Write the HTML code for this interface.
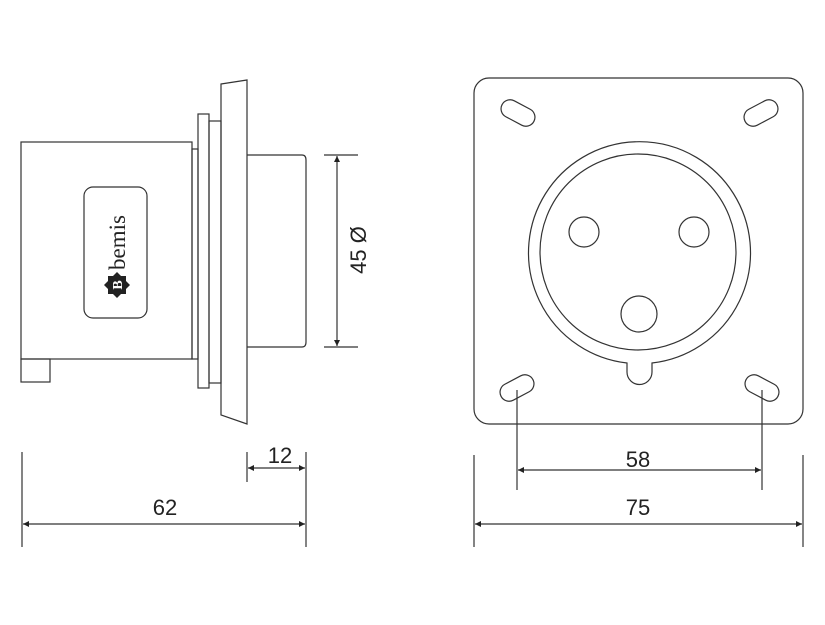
<!DOCTYPE html>
<html><head><meta charset="utf-8"><style>
html,body{margin:0;padding:0;background:#fff;width:825px;height:625px;overflow:hidden}
text{font-family:"Liberation Sans",sans-serif;fill:#222}
</style></head><body>
<svg width="825" height="625" viewBox="0 0 825 625" xmlns="http://www.w3.org/2000/svg">
<defs>
<marker id="a" viewBox="0 0 10 10" refX="10" refY="5" markerWidth="9" markerHeight="6" orient="auto-start-reverse" markerUnits="userSpaceOnUse"><path d="M0,0 L10,5 L0,10z" fill="#222"/></marker>
</defs>
<g fill="none" stroke="#333" stroke-width="1.2">
<rect x="21" y="142" width="171" height="217"/>
<rect x="21" y="359" width="29" height="23"/>
<rect x="192" y="149" width="6" height="210"/>
<rect x="198" y="114" width="11" height="274"/>
<rect x="209" y="121" width="12" height="262"/>
<path d="M221,84 L247,80 L247,424 L221,415 Z"/>
<path d="M247,155 L302,155 Q306,155 306,160 L306,342 Q306,347 302,347 L247,347"/>
<rect x="84" y="187" width="63" height="131" rx="9"/>
<line x1="324" y1="155" x2="358" y2="155"/>
<line x1="324" y1="347" x2="358" y2="347"/>
<line x1="337" y1="156" x2="337" y2="346" marker-start="url(#a)" marker-end="url(#a)"/>
<rect x="474" y="78" width="329" height="346" rx="15"/>
<path d="M627,363 A111,111 0 1 1 652,363 L652,372 A12.5,12.5 0 0 1 627,372 Z"/>
<circle cx="638" cy="252" r="98"/>
<circle cx="584" cy="232" r="15"/>
<circle cx="694" cy="232" r="15"/>
<circle cx="639" cy="314" r="18"/>
<rect x="500" y="104" width="36" height="18" rx="9" transform="rotate(28 518 113)"/>
<rect x="743" y="104" width="36" height="18" rx="9" transform="rotate(-28 761 113)"/>
<rect x="499" y="379" width="36" height="18" rx="9" transform="rotate(-28 517 388)"/>
<rect x="744" y="379" width="36" height="18" rx="9" transform="rotate(28 762 388)"/>
<line x1="22" y1="452" x2="22" y2="547"/>
<line x1="306" y1="452" x2="306" y2="547"/>
<line x1="247" y1="452" x2="247" y2="482"/>
<line x1="23" y1="524" x2="305" y2="524" marker-start="url(#a)" marker-end="url(#a)"/>
<line x1="248" y1="468" x2="305" y2="468" marker-start="url(#a)" marker-end="url(#a)"/>
<line x1="517" y1="390" x2="517" y2="490"/>
<line x1="762" y1="390" x2="762" y2="490"/>
<line x1="518" y1="470" x2="761" y2="470" marker-start="url(#a)" marker-end="url(#a)"/>
<line x1="474" y1="455" x2="474" y2="547"/>
<line x1="803" y1="455" x2="803" y2="547"/>
<line x1="475" y1="524" x2="802" y2="524" marker-start="url(#a)" marker-end="url(#a)"/>
</g>
<g transform="translate(117,285) rotate(-90)">
<text x="15" y="8" font-size="23" style="font-family:'Liberation Serif',serif" fill="#222">bemis</text>
<path d="M0,-13 L4,-9 L9,-9 L9,-4 L13,0 L9,4 L9,9 L4,9 L0,13 L-4,9 L-9,9 L-9,4 L-13,0 L-9,-4 L-9,-9 L-4,-9 Z" fill="#222"/>
<text x="0" y="5" text-anchor="middle" font-size="14" font-weight="bold" style="fill:#fff;font-family:'Liberation Serif',serif">B</text>
</g>
<text transform="translate(366,250) rotate(-90)" text-anchor="middle" font-size="22">45 Ø</text>
<text x="280" y="463" text-anchor="middle" font-size="22">12</text>
<text x="165" y="515" text-anchor="middle" font-size="22">62</text>
<text x="638" y="467" text-anchor="middle" font-size="22">58</text>
<text x="638" y="515" text-anchor="middle" font-size="22">75</text>
</svg>
</body></html>
